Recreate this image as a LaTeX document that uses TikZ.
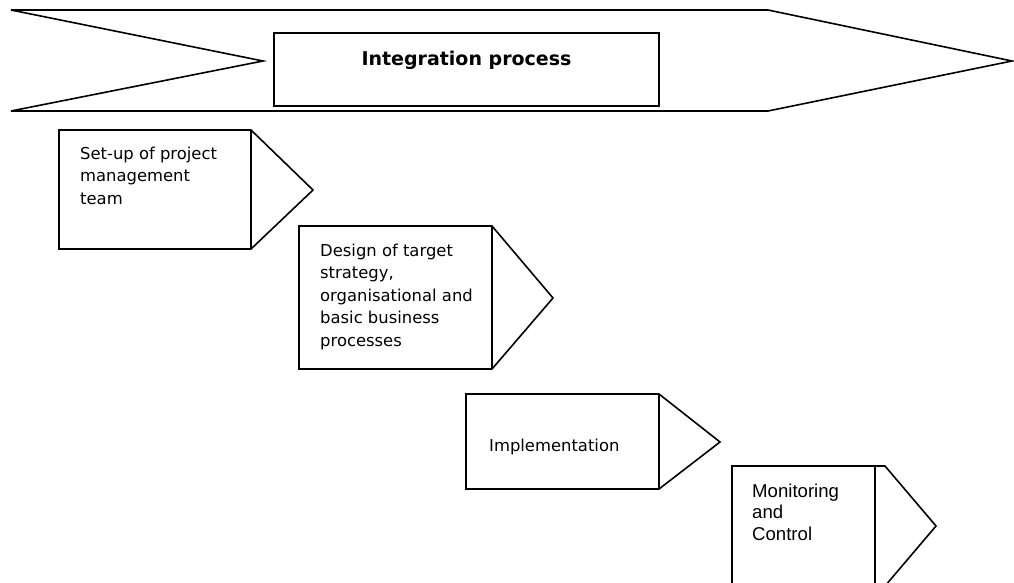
\documentclass[tikz,border=0pt]{standalone}
\usepackage{fontspec}
\setmainfont{DejaVu Sans}
\newfontfamily\arialf{Liberation Sans}
\begin{document}
\begin{tikzpicture}[x=1pt,y=-1pt,
  shp/.style={draw=black,line width=1.6pt,line join=miter},
  body/.style={anchor=north west,align=left,inner sep=0pt,font=\fontsize{16.4}{22.5}\selectfont},
  bodyb/.style={anchor=north west,align=left,inner sep=0pt,font=\arialf\fontsize{18.6}{21.5}\selectfont}]
\useasboundingbox (0,0) rectangle (1014,583);
\fill[white] (0,0) rectangle (1014,583);
\clip (0,0) rectangle (1014,583);
% big process arrow
\draw[shp] (11,10) -- (768,10) -- (1012,61) -- (768,111) -- (11,111) -- (263,61) -- cycle;
\draw[shp] (274,33) rectangle (659,106);
\node[anchor=base,inner sep=0pt,font=\fontsize{19}{22}\selectfont\bfseries] (title) at (466.5,65.7) {Integration process};
% step 1
\draw[shp] (59,130) -- (251,130) -- (313,190) -- (251,249) -- (59,249) -- cycle;
\draw[shp] (251,130) -- (251,249);
\node[body] (s1) at (80,143.3) {\strut Set-up of project\\management\\team};
% step 2
\draw[shp] (299,226) -- (492,226) -- (553,298) -- (492,369) -- (299,369) -- cycle;
\draw[shp] (492,226) -- (492,369);
\node[body] (s2) at (320,240.3) {\strut Design of target\\strategy,\\organisational and\\basic business\\processes};
% step 3
\draw[shp] (466,394) -- (659,394) -- (720,442) -- (659,489) -- (466,489) -- cycle;
\draw[shp] (659,394) -- (659,489);
\node[body] (s3) at (489,435.3) {\strut Implementation};
% step 4
\draw[shp] (732,466) -- (885,466) -- (936,526) -- (885,586) -- (732,586) -- cycle;
\draw[shp] (875,466) -- (875,590);
\node[bodyb] (s4) at (752,482) {\strut Monitoring\\and\\Control};
\end{tikzpicture}
\end{document}
